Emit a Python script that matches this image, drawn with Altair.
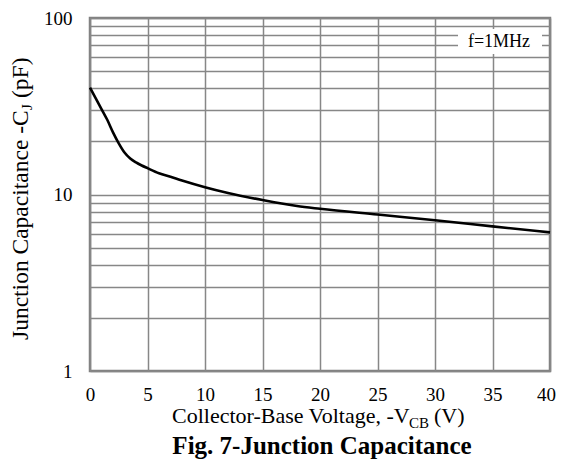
import altair as alt
import pandas as pd

# Curve data (reverse collector-base voltage vs junction capacitance)
voltage = [0, 0.5, 1, 1.5, 2, 2.5, 3, 3.5, 4, 4.5, 5, 6, 7, 8, 10, 12, 15, 18, 20, 25, 30, 35, 40]
capacitance = [40.3, 35.0, 30.5, 26.5, 22.5, 19.5, 17.3, 16.0, 15.2, 14.6, 14.1, 13.2, 12.6, 12.0,
               11.0, 10.2, 9.3, 8.6, 8.3, 7.7, 7.15, 6.6, 6.1]

x_ticks = [0, 5, 10, 15, 20, 25, 30, 35, 40]
y_grid = [1, 2, 3, 4, 5, 6, 7, 8, 9, 10, 20, 30, 40, 50, 60, 70, 80, 90, 100]
y_labels = [1, 10, 100]

x_title_main = "Collector-Base Voltage, -V"
x_title_sub = "CB"
x_title_end = "(V)"
y_title_main = "Junction Capacitance -C"
y_title_sub = "J"
y_title_end = "(pF)"
caption = "Fig. 7-Junction Capacitance"
note = "f=1MHz"

FONT = "Times New Roman"
GRAY = "#878787"

df = pd.DataFrame({"V": voltage, "C": capacitance})

label_expr = "indexof([" + ",".join(str(v) for v in y_labels) + "], datum.value) >= 0 ? format(datum.value, 'd') : ''"

base = alt.Chart(df)

curve = base.mark_line(color="black", strokeWidth=2.6, interpolate="monotone").encode(
    x=alt.X("V:Q", scale=alt.Scale(domain=[0, 40], nice=False, zero=False),
            axis=alt.Axis(values=x_ticks, title=None, grid=True, gridColor=GRAY, gridWidth=1.5,
                          gridOpacity=1, ticks=False, domain=False, labelFont=FONT, labelFontSize=19,
                          labelColor="black", labelPadding=14, labelFlush=False, format="d",
                          labelOffset={"condition": {"test": "datum.value == 40", "value": -4},
                                       "value": 0})),
    y=alt.Y("C:Q", scale=alt.Scale(type="log", domain=[1, 100], nice=False),
            axis=alt.Axis(values=y_grid, title=None, grid=True, gridColor=GRAY, gridWidth=1.5,
                          gridOpacity=1, ticks=False, domain=False, labelFont=FONT, labelFontSize=19,
                          labelColor="black", labelPadding=18, labelExpr=label_expr, labelFlush=False,
                          labelOverlap=False)),
)

dummy = pd.DataFrame({"a": [0]})

note_box = alt.Chart(dummy).mark_rect(color="white").encode(
    x=alt.value(368), x2=alt.value(452), y=alt.value(11), y2=alt.value(36)
)
note_text = alt.Chart(dummy).mark_text(font=FONT, fontSize=18, align="center", baseline="alphabetic",
                                       color="black", text=note).encode(
    x=alt.value(409), y=alt.value(29)
)

def txt(s, x, y, size, angle=0, weight="normal", align="left"):
    kw = dict(font=FONT, fontSize=size, align=align, baseline="alphabetic", color="black",
              text=s, fontWeight=weight)
    if angle:
        kw["angle"] = angle
    return alt.Chart(dummy).mark_text(**kw).encode(x=alt.value(x), y=alt.value(y))

# x title (positions relative to plot area origin)
xt1 = txt(x_title_main, 82, 405, 22)
xt2 = txt(x_title_sub, 319, 410, 15)
xt3 = txt(x_title_end, 344, 405, 22)
cap = txt(caption, 232, 436, 25, weight="bold", align="center")

# y title (rotated, reads bottom to top)
yt1 = txt(y_title_main, -62, 322, 23.5, angle=270)
yt2 = txt(y_title_sub, -58, 92, 15, angle=270)
yt3 = txt(y_title_end, -62, 80, 23.5, angle=270)

chart = alt.layer(curve, note_box, note_text, xt1, xt2, xt3, cap, yt1, yt2, yt3).properties(
    width=460, height=353,
    autosize=alt.AutoSizeParams(type="none"),
    padding={"left": 82, "top": 10, "right": 6, "bottom": 88},
    background="white",
).configure_view(stroke="#808080", strokeWidth=2.5)

chart.save("out.html", embed_options={"renderer": "svg", "actions": False})
